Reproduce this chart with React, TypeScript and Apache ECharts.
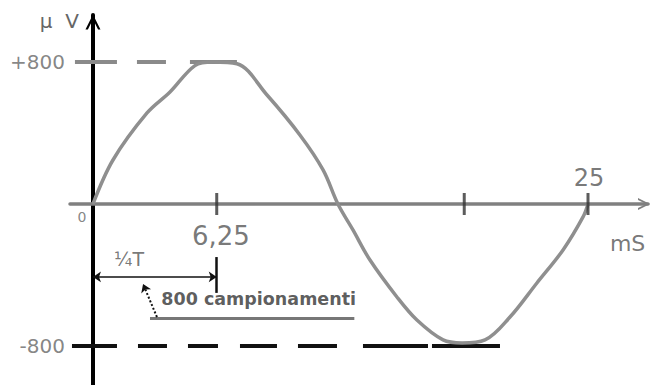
import React, { useEffect, useRef } from "react";
import * as echarts from "echarts";

// sine wave (ms, µV)
const curveMs = [0, 1.01, 2.73, 3.89, 5.15, 6.06, 7.27, 8.79, 10.45, 11.62, 12.37, 13.13, 13.99, 15.35, 16.36, 17.68, 18.64, 19.8, 21.06, 22.42, 23.74, 24.75, 25];
const curveUV = [0, 248, 513, 631, 780, 800, 790, 614, 389, 192, 0, -146, -316, -524, -654, -766, -783, -766, -637, -445, -259, -73, 0];

const xTickValues = [6.25, 18.75, 25];
const yTickValues = [800, -800];
const yTickLabels = ["+800", "-800"];
const posRefStart = -0.91;
const posRefEnd = 7.27;
const negRefStart = -1.06;
const negRefEnd = 20.56;
const quarterPeriod = 6.25;

const X_MIN = -1.16;
const FONT = "DejaVu Sans";
const chevron = "path://M0,10 L5,0 L10,10 L8.4,10 L5,3.2 L1.6,10 Z";

export default function App() {
  const ref = useRef<HTMLDivElement>(null);
  useEffect(() => {
    if (!ref.current) return;
    const chart = echarts.init(ref.current, null, { renderer: "svg" });
    const lbl = (x: number, y: number, text: string, extra: any = {}) => ({
      value: [x, y],
      name: text,
      label: { show: true, position: "inside", formatter: "{b}", fontFamily: FONT, ...extra },
    });
    chart.setOption({
      animation: false,
      grid: { left: 70, right: 5, top: 15, bottom: 0, containLabel: false, outerBoundsMode: "none" },
      xAxis: {
        type: "value",
        min: X_MIN,
        max: 28.03,
        splitLine: { show: false },
        axisTick: { show: false },
        axisLabel: { show: false },
        axisLine: {
          onZero: true,
          lineStyle: { color: "#808080", width: 3.5 },
          symbol: ["none", chevron],
          symbolSize: [15, 12],
          symbolOffset: [0, -4],
        },
      },
      yAxis: {
        type: "value",
        min: -1020,
        max: 1065,
        splitLine: { show: false },
        axisTick: { show: false },
        axisLabel: { show: false },
        name: "µ  V",
        nameLocation: "end",
        nameGap: -6,
        nameTextStyle: { align: "right", verticalAlign: "middle", fontSize: 20, fontFamily: FONT, color: "#666", padding: [0, 14, 0, 0] },
        axisLine: {
          onZero: true,
          lineStyle: { color: "#000", width: 4 },
          symbol: ["none", chevron],
          symbolSize: [21, 15],
          symbolOffset: [0, -7],
        },
      },
      series: [
        {
          type: "line",
          data: [[posRefStart, yTickValues[0]], [posRefEnd, yTickValues[0]]],
          symbol: "none",
          lineStyle: { color: "#8a8a8a", width: 4, type: [42, 20, 29, 24, 60] },
          z: 2,
        },
        {
          type: "line",
          data: [[negRefStart, yTickValues[1]], [negRefEnd, yTickValues[1]]],
          symbol: "none",
          lineStyle: { color: "#111", width: 4, type: [45, 21, 29, 21, 30, 22, 37, 21, 39, 26, 65, 4, 68] },
          z: 2,
        },
        {
          type: "line",
          data: curveMs.map((x, i) => [x, curveUV[i]]),
          symbol: "none",
          smooth: 0.35,
          lineStyle: { color: "#8f8f8f", width: 3.5 },
          z: 3,
        },
        {
          type: "scatter",
          symbol: "rect",
          symbolSize: [3, 22],
          itemStyle: { color: "#333" },
          data: xTickValues.map((v) => [v, 0]),
          z: 4,
        },
        {
          type: "scatter",
          symbolSize: 0,
          clip: false,
          data: yTickValues.map((v, i) => ({
            value: [X_MIN, v],
            name: yTickLabels[i],
            label: { show: true, position: "left", distance: 5, formatter: "{b}", fontFamily: FONT, fontSize: 20, color: "#666" },
          })),
          z: 5,
        },
        {
          type: "scatter",
          symbolSize: 0,
          clip: false,
          data: [
            lbl(-0.56, -73, "0", { fontSize: 14, color: "#666" }),
            lbl(6.46, -180, "6,25", { fontSize: 26, color: "#555" }),
            lbl(25.05, 146, "25", { fontSize: 24, color: "#555" }),
            lbl(27.0, -220, "mS", { fontSize: 22, color: "#555" }),
            lbl(1.82, -310, "¼T", { fontSize: 19, color: "#555" }),
            lbl(3.45, -535, "800 campionamenti", { fontSize: 17.5, color: "#333", fontWeight: "bold", align: "left" }),
          ],
          markLine: {
            silent: true,
            label: { show: false },
            data: [
              [
                { coord: [0, -411], symbol: "arrow", symbolSize: 8 },
                { coord: [quarterPeriod, -411], symbol: "arrow", symbolSize: 8 },
              ],
              [
                { coord: [quarterPeriod, -299], symbol: "none", lineStyle: { width: 2.5 } },
                { coord: [quarterPeriod, -501], symbol: "none" },
              ],
              [
                { coord: [2.88, -642], symbol: "none", lineStyle: { color: "#777", width: 3 } },
                { coord: [13.2, -642], symbol: "none" },
              ],
              [
                { coord: [3.23, -637], symbol: "none", lineStyle: { type: "dotted", width: 2 } },
                { coord: [2.53, -451], symbol: "arrow", symbolSize: 8 },
              ],
            ],
            lineStyle: { color: "#111", width: 1.5, type: "solid" },
          },
          z: 5,
        },
      ],
    });
    return () => chart.dispose();
  }, []);
  return <div ref={ref} style={{ position: "absolute", left: 0, top: 0, width: 653, height: 385 }} />;
}
